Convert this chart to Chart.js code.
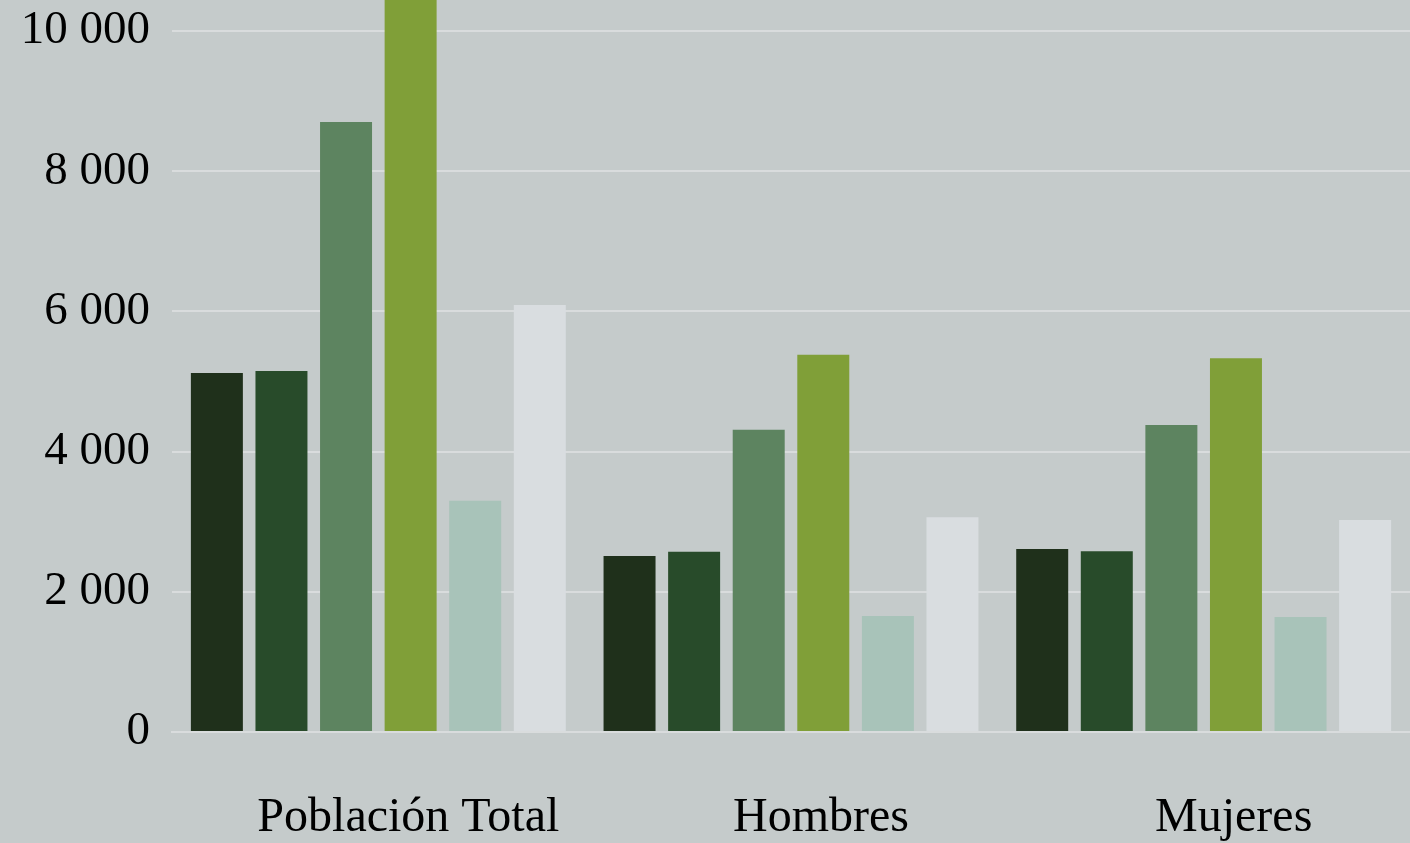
<!DOCTYPE html>
<html>
<head>
<meta charset="utf-8">
<script src="https://cdn.jsdelivr.net/npm/chart.js@4.4.1/dist/chart.umd.min.js"></script>
<style>
  html, body { margin: 0; padding: 0; background: #c5cbcb; }
  #wrap { width: 1410px; height: 843px; }
</style>
</head>
<body>
<div id="wrap"><canvas id="c"></canvas></div>
<script>
// Grupos de población
const categories = ['Población Total', 'Hombres', 'Mujeres'];

// Seis series por grupo
const serie1 = [5120, 2510, 2610];
const serie2 = [5150, 2570, 2580];
const serie3 = [8700, 4310, 4380];
const serie4 = [10710, 5380, 5330];
const serie5 = [3300, 1655, 1640];
const serie6 = [6090, 3065, 3025];

const seriesValues = [serie1, serie2, serie3, serie4, serie5, serie6];
const seriesColors = ['#1f301b', '#284b2a', '#5d8460', '#809f38', '#a8c3b9', '#d9dde0'];

// Marcas del eje vertical
const yTicks = [0, 2000, 4000, 6000, 8000, 10000];

const fontFamily = '"Liberation Serif", "Times New Roman", serif';

const fmt = v => String(v).replace(/\B(?=(\d{3})+(?!\d))/g, ' ');

new Chart(document.getElementById('c'), {
  type: 'bar',
  data: {
    labels: categories,
    datasets: seriesValues.map((vals, i) => ({
      label: 'Serie ' + (i + 1),
      data: vals,
      backgroundColor: seriesColors[i],
      borderWidth: 0,
      categoryPercentage: 0.939,
      barPercentage: 0.805
    }))
  },
  options: {
    responsive: true,
    maintainAspectRatio: false,
    animation: false,
    layout: { padding: 0 },
    plugins: {
      legend: { display: false },
      tooltip: { enabled: false }
    },
    scales: {
      x: {
        grid: { display: false, drawTicks: false },
        border: { display: true, color: '#d9dcdd', width: 2 },
        ticks: {
          color: '#000',
          font: { family: fontFamily, size: 48 },
          padding: 58,
          labelOffset: 30,
          maxRotation: 0
        },
        afterFit: s => { s.height = 111; s.paddingLeft = 0; s.paddingRight = 0; }
      },
      y: {
        min: 0,
        max: 10442,
        afterBuildTicks: s => { s.ticks = yTicks.map(v => ({ value: v })); },
        grid: { color: '#d9dcdd', lineWidth: 2, drawTicks: false },
        border: { display: false },
        ticks: {
          color: '#000',
          font: { family: fontFamily, size: 47 },
          padding: 22,
          callback: v => fmt(v)
        },
        afterFit: s => { s.width = 172; s.paddingTop = 0; s.paddingBottom = 0; }
      }
    }
  }
});
</script>
</body>
</html>
